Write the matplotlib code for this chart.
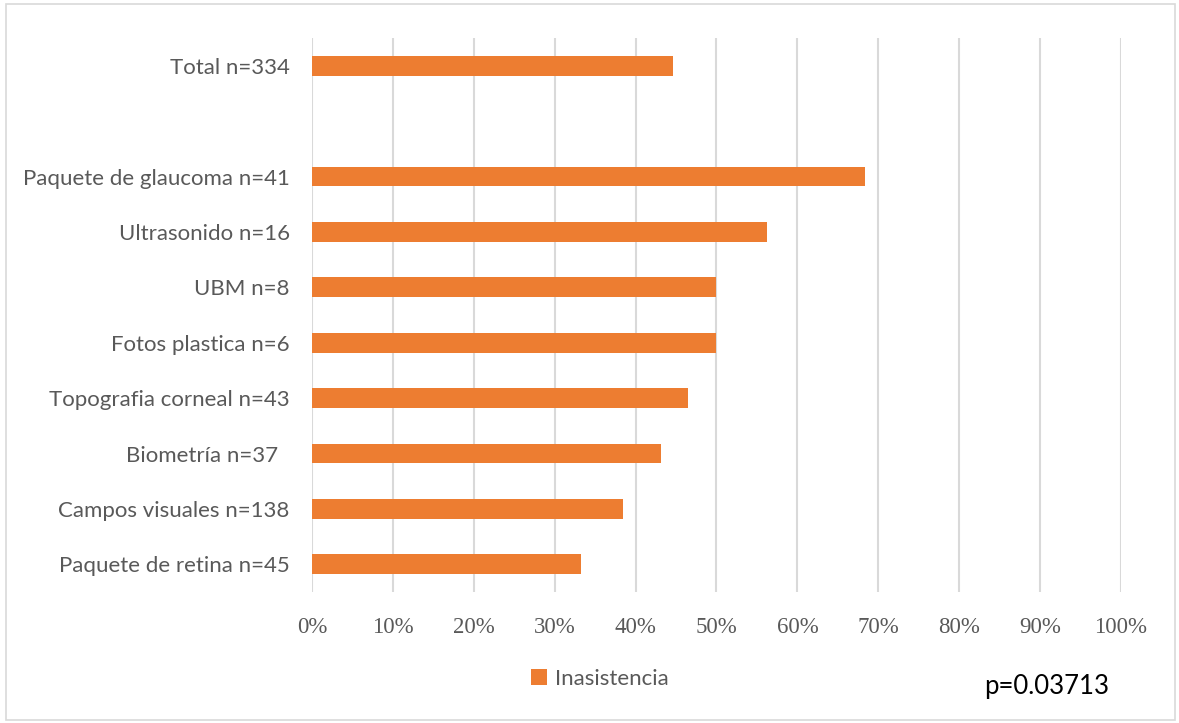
import matplotlib.pyplot as plt
from matplotlib.patches import Rectangle
from matplotlib.ticker import PercentFormatter

categories = ['Total n=334', '', 'Paquete de glaucoma n=41', 'Ultrasonido n=16',
              'UBM n=8', 'Fotos plastica n=6', 'Topografia corneal n=43',
              'Biometría n=37  ', 'Campos visuales n=138', 'Paquete de retina n=45']
inasistencia = [44.6, None, 68.3, 56.25, 50.0, 50.0, 46.5, 43.2, 38.4, 33.3]
ticks = list(range(0, 101, 10))

orange = '#ED7D31'
gray = '#595959'

fig = plt.figure(figsize=(11.79, 7.23), dpi=100)
ax = fig.add_axes([0.2646, 0.1812, 0.6862, 0.7662])

ypos = list(range(len(categories)))[::-1]
vals = [v if v is not None else 0 for v in inasistencia]
ax.barh(ypos, vals, height=0.36, color=orange, zorder=3, label='Inasistencia')

ax.set_xlim(0, 100)
ax.set_ylim(-0.5, len(categories) - 0.5)
ax.set_xticks(ticks)
ax.xaxis.set_major_formatter(PercentFormatter(decimals=0))
ax.set_yticks(ypos)
ax.set_yticklabels(categories)
ax.grid(axis='x', color='#D9D9D9', linewidth=1.5, zorder=0)
for s in ax.spines.values():
    s.set_visible(False)
ax.tick_params(length=0)
ax.tick_params(axis='y', pad=16, labelsize=16, labelcolor=gray)
ax.tick_params(axis='x', pad=18, labelsize=16.5, labelcolor=gray)
for lbl in ax.get_yticklabels():
    lbl.set_family('Lato')
for lbl in ax.get_xticklabels():
    lbl.set_family('Liberation Serif')

leg = ax.legend(loc='center', bbox_to_anchor=(0.509, 0.061), bbox_transform=fig.transFigure,
                frameon=False, handlelength=0.7, handleheight=0.7, handletextpad=0.4,
                prop={'family': 'Lato', 'size': 16})
for t in leg.get_texts():
    t.set_color(gray)

fig.text(0.888, 0.051, 'p=0.03713', ha='center', va='center', fontsize=18.5,
         family='Lato', color='black')

fig.patches.append(Rectangle((0.005, 0.004), 0.992, 0.99, transform=fig.transFigure,
                             fill=False, edgecolor='#D9D9D9', linewidth=1.2))

fig.savefig('out.png', dpi=100)
